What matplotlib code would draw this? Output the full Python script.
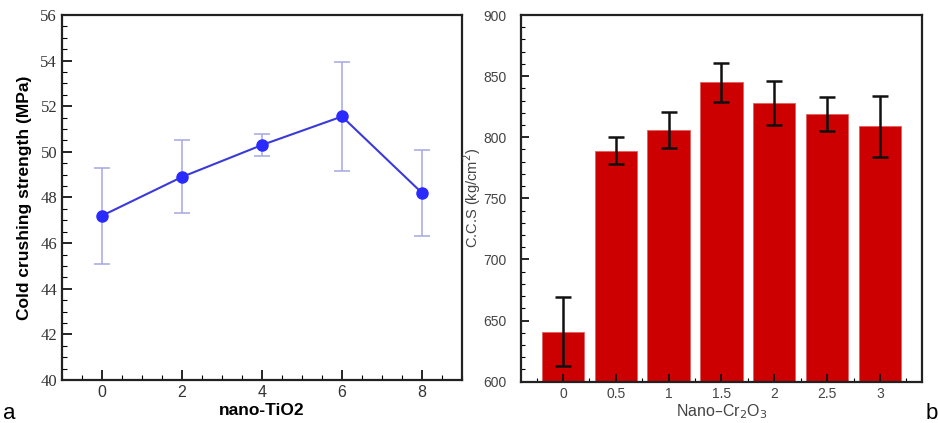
import matplotlib
matplotlib.use('Agg')
import matplotlib.pyplot as plt
from matplotlib.ticker import MultipleLocator

# panel a: nano-TiO2
tio2 = [0, 2, 4, 6, 8]
ccs_mpa = [47.2, 48.9, 50.3, 51.55, 48.2]
ccs_mpa_err = [2.1, 1.6, 0.5, 2.4, 1.9]

# panel b: nano-Cr2O3
cr2o3_labels = ['0', '0.5', '1', '1.5', '2', '2.5', '3']
ccs_kg = [641, 789, 806, 845, 828, 819, 809]
ccs_kg_err = [28, 11, 15, 16, 18, 14, 25]

fig = plt.figure(figsize=(9.38, 4.23), dpi=100)

# ---- a ----
ax1 = fig.add_axes([0.0661, 0.1017, 0.4264, 0.8629])
ax1.errorbar(tio2, ccs_mpa, yerr=ccs_mpa_err, fmt='none', ecolor='#a7a7e3',
             elinewidth=1.1, capsize=6, capthick=1.1)
ax1.plot(tio2, ccs_mpa, color='#3a3ad8', lw=1.5, marker='o', ms=8,
         mfc='#2a2aff', mec='#2a2aff')
ax1.set_xlim(-1, 9)
ax1.set_ylim(40, 56)
ax1.xaxis.set_major_locator(MultipleLocator(2))
ax1.xaxis.set_minor_locator(MultipleLocator(0.5))
ax1.yaxis.set_major_locator(MultipleLocator(2))
ax1.yaxis.set_minor_locator(MultipleLocator(0.5))
ax1.tick_params(which='both', direction='in', top=False, right=False, width=1.2,
                labelcolor='#333333')
ax1.tick_params(which='major', length=7)
ax1.tick_params(which='minor', length=3.5, width=0.8)
for lab in ax1.get_yticklabels():
    lab.set_family('Liberation Serif')
    lab.set_fontsize(12)
for lab in ax1.get_xticklabels():
    lab.set_family('Liberation Sans')
    lab.set_fontsize(11.5)
ax1.set_xlabel('nano-TiO2', fontsize=12.5, fontweight='bold', family='Liberation Sans', labelpad=2)
ax1.set_ylabel('Cold crushing strength (MPa)', fontsize=12.5, fontweight='bold',
               family='Liberation Sans', labelpad=6)
for s in ax1.spines.values():
    s.set_linewidth(1.6)
    s.set_color('#222222')

# ---- b ----
ax2 = fig.add_axes([0.5551, 0.0976, 0.4281, 0.8669])
pos = list(range(len(cr2o3_labels)))
ax2.bar(pos, [v - 600 for v in ccs_kg], bottom=600, width=0.8, color='#cc0000',
        edgecolor='#e06060', linewidth=0.6)
ax2.errorbar(pos, ccs_kg, yerr=ccs_kg_err, fmt='none', ecolor='#111111',
             elinewidth=1.8, capsize=6, capthick=1.8)
ax2.set_xlim(-0.8, 6.8)
ax2.set_ylim(600, 900)
ax2.set_xticks(pos)
ax2.set_xticklabels(cr2o3_labels)
ax2.xaxis.set_minor_locator(MultipleLocator(0.5))
ax2.yaxis.set_major_locator(MultipleLocator(50))
ax2.yaxis.set_minor_locator(MultipleLocator(10))
ax2.tick_params(which='both', direction='in', top=False, right=False, width=1.2,
                labelcolor='#444444', labelsize=10, labelfontfamily='Liberation Sans')
ax2.tick_params(which='major', length=6)
ax2.tick_params(which='minor', length=3, width=0.8)
ax2.tick_params(axis='y', pad=10)
ax2.set_xlabel('Nano\u2013Cr$_2$O$_3$', fontsize=11.5, color='#444444', labelpad=1,
               family='Liberation Sans')
ax2.set_ylabel('C.C.S (kg/cm$^2$)', fontsize=10.5, color='#444444',
               family='Liberation Sans')
ax2.yaxis.set_label_coords(-0.095, 0.5)
for s in ax2.spines.values():
    s.set_linewidth(1.6)
    s.set_color('#222222')

fig.text(0.003, 0.01, 'a', fontsize=16, family='Liberation Sans')
fig.text(0.987, 0.01, 'b', fontsize=16, family='Liberation Sans')

fig.savefig('out.png', dpi=100)
